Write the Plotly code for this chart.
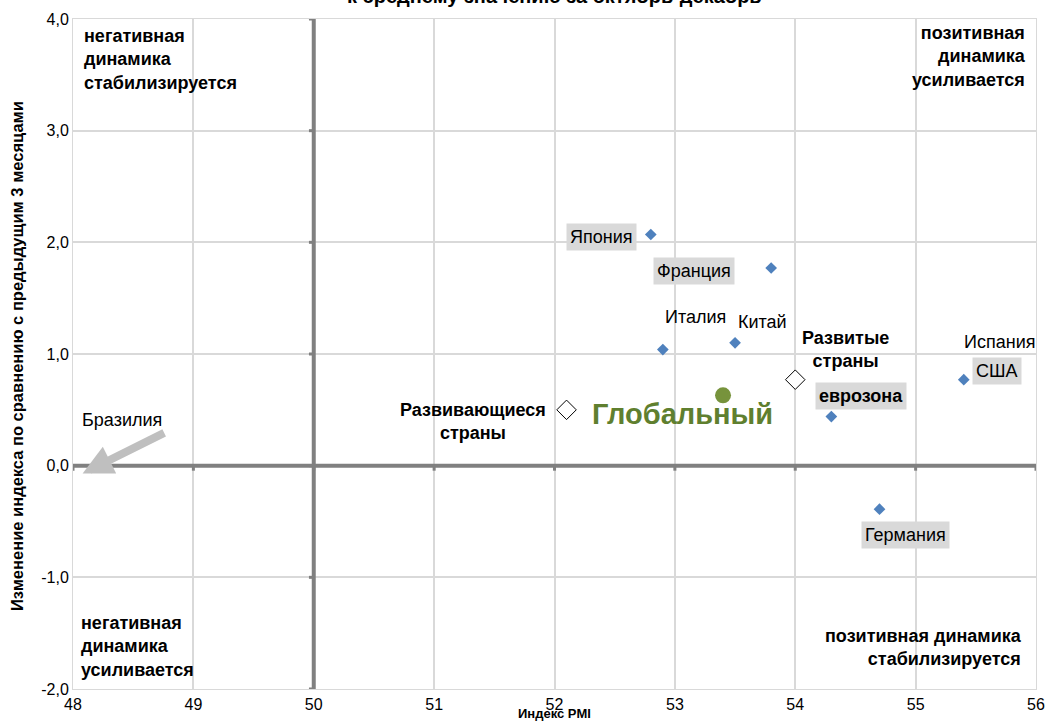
import plotly.graph_objects as go

# PMI level vs change against the previous three months
countries = ["Япония", "Франция", "Италия", "Китай", "США", "еврозона", "Германия"]
pmi = [52.8, 53.8, 52.9, 53.5, 55.4, 54.3, 54.7]
change = [2.07, 1.77, 1.04, 1.10, 0.77, 0.44, -0.39]

groups = ["Развитые страны", "Развивающиеся страны"]
group_pmi = [54.0, 52.1]
group_change = [0.77, 0.50]

global_pmi = [53.4]
global_change = [0.63]

x_ticks = [48, 49, 50, 51, 52, 53, 54, 55, 56]
y_ticks = [-2, -1, 0, 1, 2, 3, 4]
y_tick_text = ["-2,0", "-1,0", "0,0", "1,0", "2,0", "3,0", "4,0"]

FONT = "Liberation Sans, Arial, sans-serif"

fig = go.Figure()

fig.add_trace(go.Scatter(
    x=pmi, y=change, mode="markers",
    marker=dict(symbol="diamond", size=9, color="#4f81bd"),
    hoverinfo="skip", showlegend=False))
fig.add_trace(go.Scatter(
    x=group_pmi, y=group_change, mode="markers",
    marker=dict(symbol="diamond", size=15, color="white",
                line=dict(color="black", width=1)),
    hoverinfo="skip", showlegend=False))
fig.add_trace(go.Scatter(
    x=global_pmi, y=global_change, mode="markers",
    marker=dict(symbol="circle", size=16, color="#77933c"),
    hoverinfo="skip", showlegend=False))

# thick axes through PMI=50 and change=0, with small outside tick marks
fig.add_shape(type="line", x0=50, x1=50, y0=-2, y1=4, xref="x", yref="y",
              line=dict(color="#808080", width=4))
fig.add_shape(type="line", x0=48, x1=56, y0=0, y1=0, xref="x", yref="y",
              line=dict(color="#808080", width=4))
for xv in x_ticks:
    fig.add_shape(type="line", x0=xv, x1=xv, y0=0, y1=-0.045, xref="x", yref="y",
                  line=dict(color="#808080", width=3))
for yv in y_ticks:
    fig.add_shape(type="line", x0=50, x1=49.96, y0=yv, y1=yv, xref="x", yref="y",
                  line=dict(color="#808080", width=3))

annotations = []

def label(text, x, y, size=18, bold=False, bg=None, color="black", align="center",
          xanchor="center", yanchor="middle"):
    annotations.append(dict(
        text=f"<b>{text}</b>" if bold else text, x=x, y=y, xref="x", yref="y",
        showarrow=False, font=dict(family=FONT, size=size, color=color),
        bgcolor=bg, borderpad=3, align=align, xanchor=xanchor, yanchor=yanchor))

GREY_BOX = "#d9d9d9"
label("Япония", 52.39, 2.05, bg=GREY_BOX)
label("Франция", 53.16, 1.74, bg=GREY_BOX)
label("Италия", 53.17, 1.33)
label("Китай", 53.73, 1.29)
label("Развитые<br>страны", 54.42, 1.04, bold=True)
label("Испания", 55.70, 1.11)
label("США", 55.68, 0.85, bg=GREY_BOX)
label("еврозона", 54.55, 0.62, bold=True, bg=GREY_BOX)
label("Германия", 54.92, -0.62, bg=GREY_BOX)
label("Развивающиеся<br>страны", 51.32, 0.40, bold=True)
label("Глобальный", 53.06, 0.46, size=29, bold=True, color="#5f7f2f")
label("Бразилия", 48.41, 0.41)

# quadrant captions
label("негативная<br>динамика<br>стабилизируется", 48.06, 3.97, bold=True,
      align="left", xanchor="left", yanchor="top")
label("позитивная<br>динамика<br>усиливается", 55.95, 4.0, bold=True,
      align="right", xanchor="right", yanchor="top")
label("негативная<br>динамика<br>усиливается", 48.03, -1.28, bold=True,
      align="left", xanchor="left", yanchor="top")
label("позитивная динамика<br>стабилизируется", 55.92, -1.40, bold=True,
      align="right", xanchor="right", yanchor="top")

# Brazil lies off the chart to the left
annotations.append(dict(
    x=48.08, y=-0.07, ax=48.77, ay=0.30, xref="x", yref="y", axref="x", ayref="y",
    text="", showarrow=True, arrowhead=2, arrowsize=0.75, arrowwidth=8,
    arrowcolor="#bfbfbf"))

# title (second line, partly above the page edge)
annotations.append(dict(
    text="<b>к среднему значению за октябрь-декабрь</b>", x=0.5, y=1.0,
    xref="paper", yref="paper", yshift=23, showarrow=False,
    font=dict(family=FONT, size=20, color="black"), yanchor="middle"))

# axis titles
annotations.append(dict(
    text="<b>Индекс PMI</b>", x=0.5, y=0, xref="paper", yref="paper",
    yshift=-34, showarrow=False, yanchor="bottom",
    font=dict(family=FONT, size=13, color="black")))
annotations.append(dict(
    text="<b>Изменение индекса по сравнению с предыдущим 3 месяцами</b>",
    x=0, y=0.5, xref="paper", yref="paper", xshift=-56, yshift=-2, textangle=-90,
    showarrow=False, xanchor="center", yanchor="middle",
    font=dict(family=FONT, size=16.5, color="black")))

fig.update_layout(
    width=1046, height=724,
    margin=dict(l=73, r=10, t=19, b=35),
    paper_bgcolor="white", plot_bgcolor="white",
    font=dict(family=FONT, size=16, color="black"),
    annotations=annotations,
    xaxis=dict(range=[48, 56], tickvals=x_ticks, showgrid=True, gridcolor="#d9d9d9",
               gridwidth=1.5, zeroline=False, showline=True, linecolor="#d9d9d9",
               mirror=True, ticks="", tickfont=dict(size=16), ticklabelstandoff=1,
               automargin=False),
    yaxis=dict(range=[-2, 4], tickvals=y_ticks, ticktext=y_tick_text, showgrid=True,
               gridcolor="#d9d9d9", gridwidth=1.5, zeroline=False, showline=True,
               linecolor="#d9d9d9", mirror=True, ticks="", tickfont=dict(size=16),
               automargin=False),
)

fig.write_html("out.html")
